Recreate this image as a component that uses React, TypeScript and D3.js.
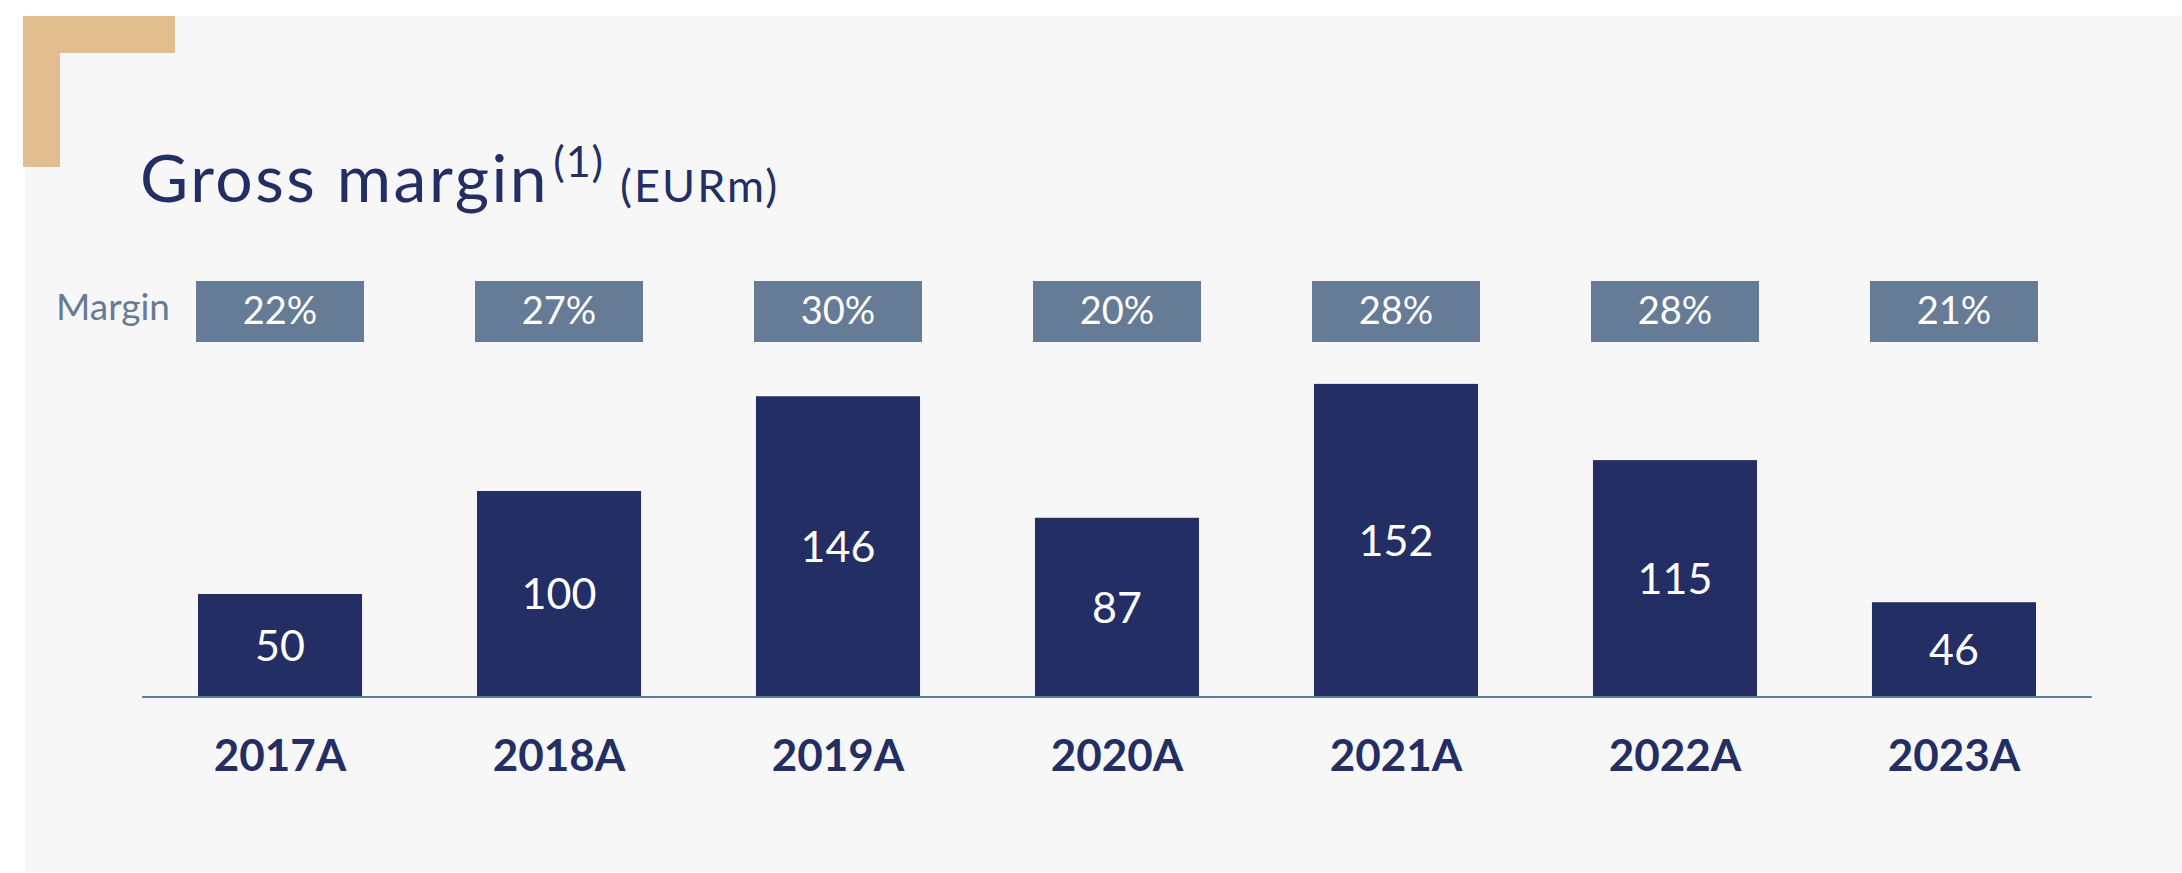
import React from 'react';
import { scaleBand, scaleLinear } from 'd3';

const years = ['2017A', '2018A', '2019A', '2020A', '2021A', '2022A', '2023A'];
const grossMargin = [50, 100, 146, 87, 152, 115, 46];
const marginPct = ['22%', '27%', '30%', '20%', '28%', '28%', '21%'];

const W = 2182;
const H = 873;
const navy = '#232f64';
const slate = '#657b96';
const font = 'Lato, "Open Sans", sans-serif';

export default function App() {
  const x = scaleBand<string>()
    .domain(years)
    .range([198, 2036])
    .paddingInner(0.412)
    .paddingOuter(0);

  const baseY = 697;
  const y = scaleLinear().domain([0, 100]).range([baseY, 491]);

  const bw = x.bandwidth();
  const step = x.step();
  const axisX0 = x.range()[0] - step * 0.2;
  const axisX1 = x.range()[1] + step * 0.2;

  return (
    <svg
      width={W}
      height={H}
      style={{ position: 'absolute', left: 0, top: 0 }}
      fontFamily={font}
    >
      <rect width={W} height={H} fill="#ffffff" />
      <rect x={25} y={16} width={W - 25} height={856} fill="#f7f7f7" />

      {/* corner bracket */}
      <path d="M23,16 H175 V53 H60 V167 H23 Z" fill="#e1bd8f" />

      {/* title */}
      <text x={140} y={202} fill={navy} fontSize={66} letterSpacing={2.5}>
        Gross margin
        <tspan fontSize={43} dy={-25} dx={4} letterSpacing={1}>(1)</tspan>
        <tspan fontSize={45} dy={25} dx={16} letterSpacing={2}>(EURm)</tspan>
      </text>

      <text x={56} y={320} fill={slate} fontSize={37}>Margin</text>

      {/* margin boxes */}
      {marginPct.map((m, i) => {
        const cx = (x(years[i]) ?? 0) + bw / 2;
        return (
          <g key={'m' + i}>
            <rect x={cx - 84} y={281} width={168} height={61} fill={slate} />
            <text x={cx} y={324} textAnchor="middle" fill="#ffffff" fontSize={38}>
              {m}
            </text>
          </g>
        );
      })}

      {/* bars */}
      {grossMargin.map((v, i) => {
        const bx = x(years[i]) ?? 0;
        const top = y(v);
        return (
          <g key={'b' + i}>
            <rect x={bx} y={top} width={bw} height={baseY - top} fill={navy} />
            <text
              x={bx + bw / 2}
              y={(top + baseY) / 2}
              dy="0.36em"
              textAnchor="middle"
              fill="#ffffff"
              fontSize={43}
            >
              {v}
            </text>
          </g>
        );
      })}

      <line x1={axisX0} x2={axisX1} y1={baseY} y2={baseY} stroke={slate} strokeWidth={2} />

      {years.map((yr) => (
        <text
          key={yr}
          x={(x(yr) ?? 0) + bw / 2}
          y={771}
          textAnchor="middle"
          fill={navy}
          fontSize={44}
          fontWeight={700}
        >
          {yr}
        </text>
      ))}
    </svg>
  );
}
